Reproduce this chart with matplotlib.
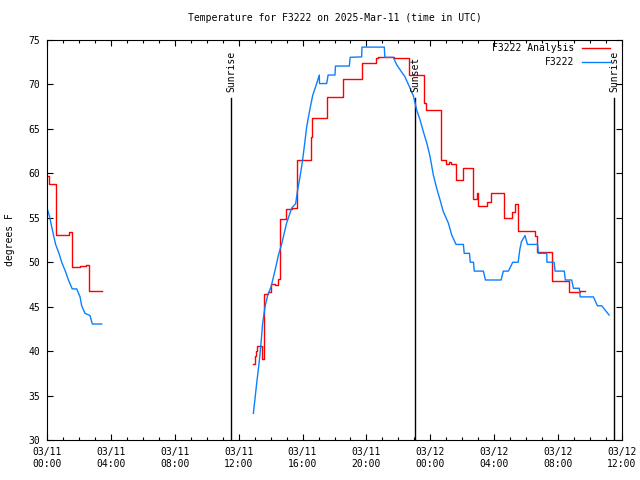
import matplotlib
matplotlib.use("Agg")
import matplotlib.pyplot as plt
from matplotlib.ticker import MultipleLocator

# time is hours since 2025-03-11 00:00 UTC

# F3222 Analysis (step data, value holds until next time)
analysis_night_hours = [0.0, 0.125, 0.55, 1.4, 1.58, 2.07, 2.42, 2.63, 3.42]
analysis_night_temps = [59.7, 58.8, 53.1, 53.4, 49.5, 49.6, 49.7, 46.8, 46.8]

analysis_day_hours = [12.92, 13.0, 13.1, 13.17, 13.48, 13.61, 13.82, 14.0, 14.11, 14.3, 14.45,
                      14.61, 14.95, 15.32, 15.67, 16.51, 16.6, 17.51, 18.52, 19.7, 20.6, 20.75,
                      21.73, 22.69, 23.6, 23.75, 24.65, 25.0, 25.2, 25.3, 25.61, 26.07, 26.65,
                      26.9, 27.0, 27.53, 27.8, 28.6, 29.14, 29.3, 29.5, 30.56, 30.65, 31.6,
                      32.66, 33.38, 33.66]
analysis_day_temps = [38.5, 39.4, 40.0, 40.6, 39.1, 46.4, 46.6, 47.5, 47.6, 47.4, 48.1,
                      54.9, 55.95, 56.1, 61.5, 64.1, 66.2, 68.55, 70.6, 72.45, 72.94, 73.05,
                      72.94, 71.1, 67.9, 67.1, 61.5, 61.1, 61.3, 61.1, 59.3, 60.56, 57.1,
                      57.8, 56.3, 56.8, 57.8, 54.94, 55.7, 56.6, 53.5, 52.9, 51.1, 47.9,
                      46.6, 46.75, 46.75]

# F3222 observations
obs_night_hours = [0.0, 0.15, 0.4, 0.54, 0.75, 0.92, 1.17, 1.34, 1.58, 1.86, 2.07, 2.17,
                   2.38, 2.69, 2.84, 3.42]
obs_night_temps = [56.1, 55.2, 53.1, 52.0, 51.0, 50.0, 48.9, 48.0, 47.0, 47.0, 46.1, 45.1,
                   44.25, 44.0, 43.05, 43.05]

obs_day_hours = [12.92, 13.13, 13.3, 13.4, 13.5, 13.65, 13.82, 14.03, 14.28, 14.49, 14.7,
                 15.0, 15.32, 15.57, 15.67, 15.84, 15.99, 16.16, 16.26, 16.47, 16.64, 16.82,
                 17.05, 17.06, 17.51, 17.6, 18.03, 18.06, 18.93, 18.98, 19.7, 19.72, 21.12,
                 21.15, 21.68, 21.9, 22.2, 22.4, 22.69, 22.94, 23.15, 23.36, 23.56, 23.78,
                 23.98, 24.19, 24.4, 24.61, 24.81, 25.13, 25.34, 25.61, 26.07, 26.12, 26.45,
                 26.5, 26.7, 26.75, 27.32, 27.45, 28.43, 28.57, 28.89, 29.16, 29.5, 29.6,
                 29.7, 29.93, 30.08, 30.72, 30.76, 31.29, 31.3, 31.75, 31.81, 32.39, 32.45,
                 32.85, 32.96, 33.33, 33.38, 34.21, 34.46, 34.73, 35.19]
obs_day_temps = [33.0, 36.4, 39.0, 40.9, 43.1, 45.0, 46.3, 47.25, 49.1, 50.8, 52.1,
                 54.4, 56.1, 56.6, 57.9, 59.6, 61.3, 63.75, 65.25, 67.3, 68.8, 69.75,
                 71.06, 70.1, 70.1, 71.06, 71.06, 72.07, 72.07, 73.05, 73.1, 74.2, 74.2,
                 73.05, 73.05, 72.2, 71.4, 70.9, 69.75, 68.7, 67.1, 66.0, 64.7, 63.4,
                 61.9, 59.8, 58.3, 57.0, 55.7, 54.4, 53.06, 52.0, 52.0, 51.0, 51.0,
                 50.0, 50.0, 49.0, 49.0, 48.0, 48.0, 49.0, 49.0, 50.0, 50.0, 51.4,
                 52.3, 53.0, 52.0, 52.0, 51.0, 51.0, 50.0, 50.0, 49.0, 49.0, 48.0,
                 48.0, 47.07, 47.07, 46.1, 46.1, 45.1, 45.1, 44.06]

# sun events
sun_hours = [11.52, 23.04, 35.5]
sun_labels = ["Sunrise", "Sunset", "Sunrise"]

tick_hours = [0, 4, 8, 12, 16, 20, 24, 28, 32, 36]
tick_labels = ["03/11\n00:00", "03/11\n04:00", "03/11\n08:00", "03/11\n12:00", "03/11\n16:00",
               "03/11\n20:00", "03/12\n00:00", "03/12\n04:00", "03/12\n08:00", "03/12\n12:00"]

RED = "#ff0000"
BLUE = "#0a80ff"


def main():
    plt.rcParams['font.family'] = ['DejaVu Sans Mono']
    plt.rcParams['font.size'] = 7

    fig = plt.figure(figsize=(6.4, 4.8), dpi=100)
    ax = fig.add_axes([47 / 640, 40 / 480, 575 / 640, 400 / 480])

    # sunrise / sunset markers
    for h, lab in zip(sun_hours, sun_labels):
        ax.plot([h, h], [30, 68.5], color="black", lw=1.0)
        ax.text(h, 69.15, lab, rotation=90, ha="center", va="bottom")

    ax.plot(analysis_night_hours, analysis_night_temps, color=RED, lw=1.0,
            drawstyle="steps-post", label="F3222 Analysis")
    ax.plot(analysis_day_hours, analysis_day_temps, color=RED, lw=1.0, drawstyle="steps-post")
    ax.plot(obs_night_hours, obs_night_temps, color=BLUE, lw=1.0, label="F3222")
    ax.plot(obs_day_hours, obs_day_temps, color=BLUE, lw=1.0)

    ax.set_xlim(0, 36)
    ax.set_ylim(30, 75)
    ax.set_xticks(tick_hours)
    ax.set_xticklabels(tick_labels)
    ax.xaxis.set_minor_locator(MultipleLocator(1))
    ax.yaxis.set_major_locator(MultipleLocator(5))
    ax.tick_params(which="both", direction="in", top=True, right=True, width=0.8)
    ax.tick_params(which="major", length=4.5, pad=5)
    ax.tick_params(which="minor", length=2.5)
    for s in ax.spines.values():
        s.set_linewidth(0.8)

    ax.set_title("Temperature for F3222 on 2025-Mar-11 (time in UTC)", fontsize=7, pad=14)
    ax.set_ylabel("degrees F")
    ax.yaxis.set_label_coords(-0.056, 0.5)

    ax.legend(loc="upper right", bbox_to_anchor=((610 - 47) / 575, 1 - 3 / 400),
              frameon=False, markerfirst=False, handlelength=2.9, handletextpad=0.8,
              labelspacing=0.45, borderpad=0, borderaxespad=0)

    plt.savefig("out.png", dpi=100)


if __name__ == "__main__":
    main()
